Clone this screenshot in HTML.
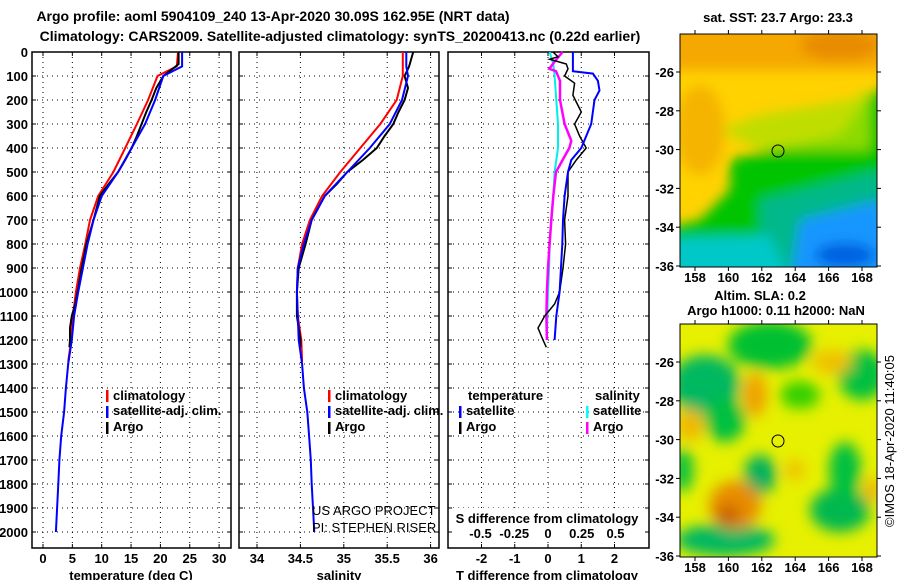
<!DOCTYPE html>
<html><head><meta charset="utf-8"><style>
html,body{margin:0;padding:0;background:#fff;}
svg{display:block;font-family:"Liberation Sans",Arial,sans-serif;}
.t{font-weight:bold;font-size:13px;fill:#000;}
.tt{font-weight:bold;font-size:14px;fill:#000;}
</style></head><body>
<svg id="c" width="900" height="580" viewBox="0 0 900 580">
<defs>
<clipPath id="cm1"><rect x="680" y="34" width="197" height="233"/></clipPath>
<clipPath id="cm2"><rect x="680" y="324" width="197" height="233"/></clipPath>
<filter id="bl" x="-20%" y="-20%" width="140%" height="140%"><feGaussianBlur stdDeviation="6"/></filter>
<filter id="bl2" x="-20%" y="-20%" width="140%" height="140%"><feGaussianBlur stdDeviation="7"/></filter>
</defs>
<text class="tt" x="273" y="21" text-anchor="middle">Argo profile: aoml 5904109_240 13-Apr-2020 30.09S 162.95E (NRT data)</text>
<text class="tt" x="340" y="41" text-anchor="middle">Climatology: CARS2009. Satellite-adjusted climatology: synTS_20200413.nc (0.22d earlier)</text>

<g>
<g clip-path="url(#cm1)">
<rect x="680" y="34" width="197" height="233" fill="#ffd200"/>
<g filter="url(#bl)">
<rect x="660" y="20" width="240" height="50" fill="#f5a800"/>
<ellipse cx="840" cy="45" rx="40" ry="15" fill="#e88c00"/>
<ellipse cx="700" cy="130" rx="25" ry="45" fill="#f5b400"/>
<polygon points="730,160 770,150 840,135 870,95 900,80 900,280 660,280 660,230 700,220 730,190" fill="#00c400"/>
<polygon points="720,130 760,115 850,100 870,90 870,150 760,150" fill="#b0e000" opacity="0.8"/>
<polygon points="760,200 880,170 900,280 760,280" fill="#00b88a"/>
<polygon points="800,220 880,200 900,280 790,280" fill="#1496ff"/>
<ellipse cx="845" cy="255" rx="30" ry="12" fill="#0060e0"/>
<polygon points="660,238 770,235 790,280 660,280" fill="#00c8c8"/>
</g>
</g>
<rect x="680" y="34" width="197" height="233" fill="none" stroke="#000"/>
<circle cx="778" cy="151" r="6" fill="none" stroke="#000"/>
<text class="t" x="778" y="22" text-anchor="middle">sat. SST: 23.7 Argo: 23.3</text>
</g>

<g>
<g clip-path="url(#cm2)">
<rect x="680" y="324" width="197" height="233" fill="#e6f000"/>
<g filter="url(#bl2)">
<ellipse cx="705" cy="385" rx="35" ry="30" fill="#00b860"/>
<ellipse cx="725" cy="420" rx="20" ry="22" fill="#00c040"/>
<ellipse cx="770" cy="345" rx="42" ry="24" fill="#00c030"/>
<ellipse cx="800" cy="395" rx="20" ry="14" fill="#30d000"/>
<ellipse cx="862" cy="375" rx="24" ry="25" fill="#00c040"/>
<ellipse cx="760" cy="475" rx="16" ry="20" fill="#00b060"/>
<ellipse cx="840" cy="510" rx="30" ry="22" fill="#00b850"/>
<ellipse cx="845" cy="470" rx="16" ry="28" fill="#00c040"/>
<ellipse cx="725" cy="540" rx="50" ry="16" fill="#00b860"/>
<ellipse cx="683" cy="470" rx="10" ry="22" fill="#00c040"/>
<ellipse cx="755" cy="395" rx="12" ry="22" fill="#f0a000"/>
<ellipse cx="690" cy="425" rx="14" ry="16" fill="#f0b800"/>
<ellipse cx="832" cy="362" rx="20" ry="12" fill="#f0c000"/>
<ellipse cx="735" cy="505" rx="26" ry="24" fill="#e88c00"/>
<ellipse cx="728" cy="515" rx="12" ry="10" fill="#c86000"/>
<ellipse cx="872" cy="490" rx="8" ry="12" fill="#f0b000"/>
<ellipse cx="795" cy="470" rx="10" ry="10" fill="#f0c000"/>
</g>
</g>
<rect x="680" y="324" width="197" height="233" fill="none" stroke="#000"/>
<circle cx="778" cy="441" r="6" fill="none" stroke="#000"/>
<text class="t" x="760" y="300" text-anchor="middle">Altim. SLA: 0.2</text>
<text class="t" x="776" y="315" text-anchor="middle">Argo h1000: 0.11 h2000: NaN</text>
<text x="894" y="441" transform="rotate(-90 894 441)" text-anchor="middle" font-size="13">©IMOS 18-Apr-2020 11:40:05</text>
</g>

<g id="plots"></g>

<g id="leg">
<g>
<rect x="106" y="390" width="2.5" height="12" fill="#f00"/><text class="t" x="113" y="400">climatology</text>
<rect x="106" y="406" width="2.5" height="12" fill="#00f"/><text class="t" x="113" y="415">satellite-adj. clim.</text>
<rect x="106" y="422" width="2.5" height="12" fill="#000"/><text class="t" x="113" y="431">Argo</text>
</g>
<g>
<rect x="328" y="390" width="2.5" height="12" fill="#f00"/><text class="t" x="335" y="400">climatology</text>
<rect x="328" y="406" width="2.5" height="12" fill="#00f"/><text class="t" x="335" y="415">satellite-adj. clim.</text>
<rect x="328" y="422" width="2.5" height="12" fill="#000"/><text class="t" x="335" y="431">Argo</text>
</g>
<g>
<text class="t" x="468" y="400">temperature</text><text class="t" x="595" y="400">salinity</text>
<rect x="459" y="406" width="2.5" height="12" fill="#00f"/><text class="t" x="466" y="415">satellite</text>
<rect x="586" y="406" width="2.5" height="12" fill="#0ff"/><text class="t" x="593" y="415">satellite</text>
<rect x="459" y="422" width="2.5" height="12" fill="#000"/><text class="t" x="466" y="431">Argo</text>
<rect x="586" y="422" width="2.5" height="12" fill="#f0f"/><text class="t" x="593" y="431">Argo</text>
</g>
<text x="312" y="515" font-size="13">US ARGO PROJECT</text>
<text x="312" y="532" font-size="13">PI: STEPHEN RISER</text>
<rect x="452" y="508" width="192" height="32" fill="#fff"/>
<text class="t" x="547" y="523" text-anchor="middle">S difference from climatology</text>
</g>
</svg>
<script>
// ---- data ----
const depthTicks = [0,100,200,300,400,500,600,700,800,900,1000,1100,1200,1300,1400,1500,1600,1700,1800,1900,2000];
const tempTicks = [0,5,10,15,20,25,30];
const salTicks = [34,34.5,35,35.5,36];
const tdiffTicks = [-2,-1,0,1,2];
const sdiffTicks = [-0.5,-0.25,0,0.25,0.5];

const argoDepth = [0,50,62,100,150,200,250,300,350,400,450,500,550,600,700,800,900,1000,1050,1100,1150,1200,1230];
const argoTemp  = [23.1,23.1,22.5,20.5,19.3,18.5,17.6,16.8,16.0,15.1,14.0,12.8,11.2,9.7,8.6,7.4,6.6,5.9,5.5,4.9,4.6,4.6,4.5];
const argoSal   = [35.80,35.76,35.75,35.70,35.74,35.70,35.63,35.57,35.47,35.38,35.22,35.04,34.92,34.78,34.63,34.56,34.48,34.46,34.46,34.46,34.48,34.50,34.50];

const climDepth = [0,60,100,200,300,400,500,600,700,800,900,1000,1100,1200,1290];
const climTemp  = [23.0,22.8,19.5,17.9,16.0,14.0,12.0,9.4,8.0,7.2,6.3,5.6,5.1,4.8,4.3];
const climSal   = [35.68,35.68,35.68,35.61,35.42,35.19,34.96,34.75,34.61,34.52,34.47,34.46,34.47,34.51,34.52];

const satDepth = [0,60,100,200,300,400,500,600,700,800,900,1000,1100,1200,1300,1400,1500,1600,1700,1800,1900,2000];
const satTemp  = [23.7,23.7,20.5,19.1,17.4,15.1,12.8,10.0,8.6,7.6,6.8,6.0,5.3,4.9,4.3,3.9,3.6,3.1,2.8,2.6,2.4,2.2];
const satSal   = [35.72,35.72,35.74,35.67,35.53,35.30,35.04,34.78,34.63,34.54,34.47,34.46,34.47,34.48,34.52,34.54,34.58,34.60,34.62,34.63,34.645,34.66];

const dtSatDepth = [0,60,80,90,120,160,200,300,400,450,500,600,700,800,1000,1100,1200];
const dtSat      = [0.75,0.75,0.75,1.35,1.5,1.55,1.4,1.3,1.0,0.7,0.6,0.5,0.45,0.43,0.35,0.25,0.2];
const dtArgoDepth = [0,20,30,50,70,100,130,180,250,300,350,400,450,500,600,700,800,900,1000,1050,1100,1150,1200,1230];
const dtArgo      = [0.15,0.3,0.05,0.55,0.6,0.5,0.8,0.75,1.0,0.8,0.95,1.15,0.85,0.6,0.6,0.5,0.53,0.45,0.35,0.2,-0.1,-0.3,-0.15,-0.05];
const dsArgoDepth = [0,40,70,80,120,200,300,370,400,450,500,600,700,800,900,1000,1100,1200];
const dsArgo      = [0.11,0.05,0.01,0.06,0.09,0.09,0.125,0.175,0.16,0.11,0.06,0.04,0.025,0.012,0.0,-0.008,-0.012,-0.008];
const dsSatDepth = [0,50,100,300,400,500,600,700,800,900,1000,1100,1200];
const dsSat      = [0.012,0.04,0.05,0.075,0.075,0.05,0.04,0.025,0.012,0.008,0.0,-0.005,-0.008];

// ---- axes ----
const svg = document.getElementById('c');
const plots = document.getElementById('plots');
const NS = 'http://www.w3.org/2000/svg';
const Y0 = 52, YB = 548;
const yD = d => Y0 + d * 0.24;
const xT = v => 43 + v * 5.87;
const xS = v => 257 + (v - 34) * 86.8;
const xDT = v => 548 + v * 33.25;
const xDS = v => 548 + v * 133;
const xDSlab = v => 548 + v * 135;

function mk(tag, attrs, parent) {
  const e = document.createElementNS(NS, tag);
  for (const k in attrs) e.setAttribute(k, attrs[k]);
  (parent || plots).appendChild(e);
  return e;
}
function panel(name, x0, x1, ticks, xf) {
  const g = mk('g', {});
  
  
  mk('rect', {x: x0, y: Y0, width: x1 - x0, height: YB - Y0, fill: '#fff', stroke: '#000', 'stroke-width': 1.5}, g);
  depthTicks.forEach(d => {
    if (d > 0) mk('line', {x1: x0, x2: x1, y1: yD(d), y2: yD(d), stroke: '#000', 'stroke-dasharray': '1,4'}, g);
    mk('line', {x1: x0, x2: x0 + 4, y1: yD(d), y2: yD(d), stroke: '#000'}, g);
    mk('line', {x1: x1 - 4, x2: x1, y1: yD(d), y2: yD(d), stroke: '#000'}, g);
  });
  ticks.forEach(v => {
    const x = xf(v);
    mk('line', {x1: x, x2: x, y1: Y0, y2: YB, stroke: '#000', 'stroke-dasharray': '1,4'}, g);
    mk('line', {x1: x, x2: x, y1: Y0, y2: Y0 + 4, stroke: '#000'}, g);
    mk('line', {x1: x, x2: x, y1: YB - 4, y2: YB, stroke: '#000'}, g);
    const t = mk('text', {x: x, y: 563, 'text-anchor': 'middle', class: 't'}, g);
    
    
    t.textContent = String(v);
  });
  return g;
}
function line(g, name, ds, vs, xf, color, w) {
  const pts = ds.map((d, i) => xf(vs[i]).toFixed(1) + ',' + yD(d).toFixed(1)).join(' ');
  const p = mk('polyline', {points: pts, fill: 'none', stroke: color, 'stroke-width': w}, g);
  
  
}

const g1 = panel('temperature-panel', 32, 231, tempTicks, xT);
line(g1, 'temp-climatology-line', climDepth, climTemp, xT, '#f00', 2);
line(g1, 'temp-argo-line', argoDepth, argoTemp, xT, '#000', 2);
line(g1, 'temp-satellite-line', satDepth, satTemp, xT, '#00f', 2);
depthTicks.forEach(d => {
  const t = mk('text', {x: 28, y: yD(d) + 5, 'text-anchor': 'end', class: 't'});
  
  
  t.textContent = String(d);
});
const a1 = mk('text', {x: 131, y: 580, 'text-anchor': 'middle', class: 't'});


a1.textContent = 'temperature (deg C)';

const g2 = panel('salinity-panel', 239, 439, salTicks, xS);
line(g2, 'sal-climatology-line', climDepth, climSal, xS, '#f00', 2);
line(g2, 'sal-argo-line', argoDepth, argoSal, xS, '#000', 2);
line(g2, 'sal-satellite-line', satDepth, satSal, xS, '#00f', 2);
const a2 = mk('text', {x: 339, y: 580, 'text-anchor': 'middle', class: 't'});


a2.textContent = 'salinity';

const g3 = panel('difference-panel', 448, 649, tdiffTicks, xDT);
line(g3, 'sdiff-satellite-line', dsSatDepth, dsSat, xDS, '#0ee', 2);
line(g3, 'sdiff-argo-line', dsArgoDepth, dsArgo, xDS, '#f0f', 2.5);
line(g3, 'tdiff-argo-line', dtArgoDepth, dtArgo, xDT, '#000', 1.5);
line(g3, 'tdiff-satellite-line', dtSatDepth, dtSat, xDT, '#00f', 2);
const a3 = mk('text', {x: 547, y: 580, 'text-anchor': 'middle', class: 't'});


a3.textContent = 'T difference from climatology';

sdiffTicks.forEach(v => {
  const t = document.createElementNS(NS, 'text');
  t.setAttribute('x', xDSlab(v));
  t.setAttribute('y', 538);
  t.setAttribute('text-anchor', 'middle');
  t.setAttribute('class', 't');
  
  
  t.textContent = String(v);
  svg.appendChild(t);
});

// map axes
const lonTicks = [158,160,162,164,166,168];
const latTicks = [-26,-28,-30,-32,-34,-36];
const xLon = v => 695 + (v - 158) * 16.7;
[[34, 267, 72, 282], [324, 557, 362, 572]].forEach(([top, bot, lat26, ly]) => {
  lonTicks.forEach(v => {
    mk('line', {x1: xLon(v), x2: xLon(v), y1: top - 4, y2: top, stroke: '#000'});
    mk('line', {x1: xLon(v), x2: xLon(v), y1: bot, y2: bot + 4, stroke: '#000'});
    const t = mk('text', {x: xLon(v), y: ly, 'text-anchor': 'middle', class: 't'});
    
    
    t.textContent = String(v);
  });
  latTicks.forEach(v => {
    const y = lat26 + (-26 - v) * 19.4;
    mk('line', {x1: 676, x2: 680, y1: y, y2: y, stroke: '#000'});
    mk('line', {x1: 877, x2: 881, y1: y, y2: y, stroke: '#000'});
    const t = mk('text', {x: 674, y: y + 5, 'text-anchor': 'end', class: 't'});
    
    
    t.textContent = String(v);
  });
});
</script>
</body></html>
